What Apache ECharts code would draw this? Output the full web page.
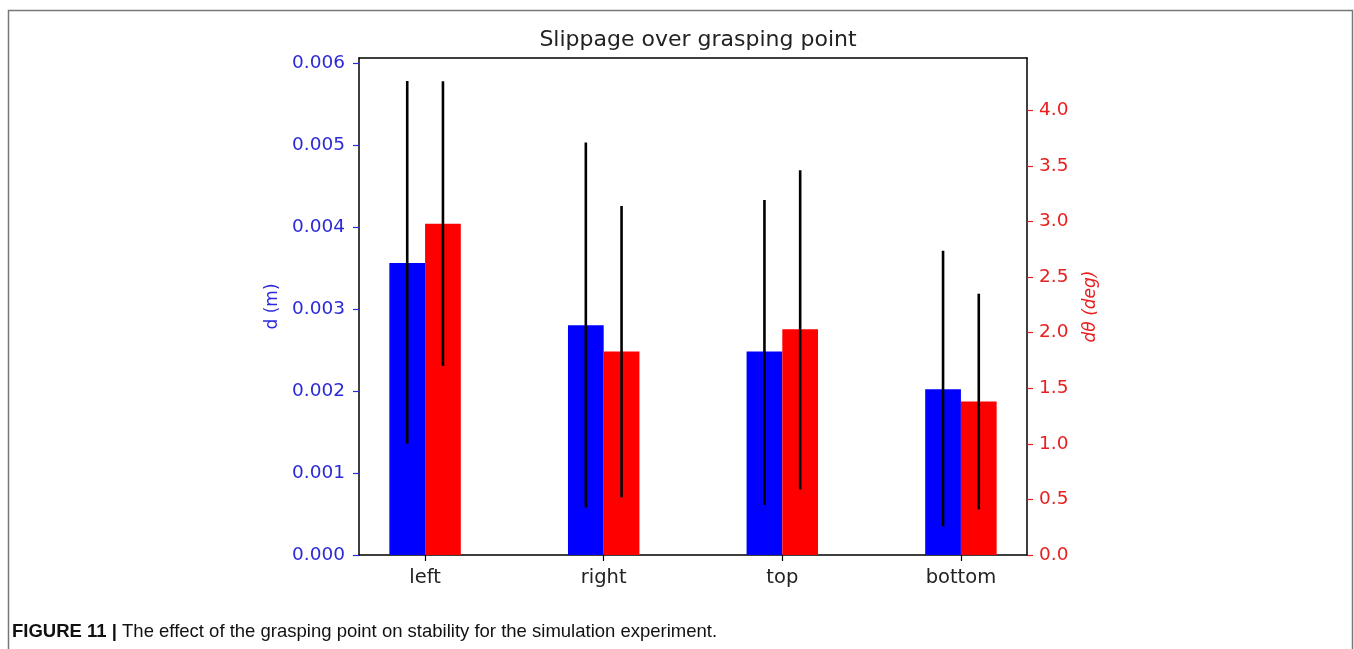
<!DOCTYPE html>
<html>
<head>
<meta charset="utf-8">
<script src="https://cdn.jsdelivr.net/npm/echarts@6/dist/echarts.min.js"></script>
<style>
  html, body { margin: 0; padding: 0; background: #fff; }
  #chart { width: 1354px; height: 649px; }
</style>
</head>
<body>
<div id="chart"></div>
<script>
// grasping points on the x axis
var categories = ['left', 'right', 'top', 'bottom'];
var positions = [0, 1, 2, 3];

// mean slippage distance d (m), left axis
var dMean = [0.00356, 0.00280, 0.00248, 0.00202];
var dLow = [0.00136, 0.00058, 0.00061, 0.00035];
var dHigh = [0.00578, 0.00503, 0.00433, 0.00371];

// mean angle slippage dθ (deg), right axis
var thMean = [2.98, 1.83, 2.03, 1.38];
var thLow = [1.70, 0.52, 0.59, 0.41];
var thHigh = [4.26, 3.14, 3.46, 2.35];

var leftTicks = [0, 0.001, 0.002, 0.003, 0.004, 0.005, 0.006];
var rightTicks = [0, 0.5, 1.0, 1.5, 2.0, 2.5, 3.0, 3.5, 4.0];

var chart = echarts.init(document.getElementById('chart'));
var barW = 0.2;
var FONT = 'DejaVu Sans';

function barItem(offset) {
    return function (params, api) {
        var x = api.value(0), v = api.value(1);
        var p0 = api.coord([x + offset - barW / 2, v]);
        var p1 = api.coord([x + offset + barW / 2, 0]);
        return {
            type: 'rect',
            shape: {x: p0[0], y: p0[1], width: p1[0] - p0[0], height: p1[1] - p0[1]},
            style: {fill: api.visual('color')}
        };
    };
}

function errItem(offset) {
    return function (params, api) {
        var x = api.value(0);
        var lo = api.coord([x + offset, api.value(1)]);
        var hi = api.coord([x + offset, api.value(2)]);
        return {
            type: 'line',
            shape: {x1: lo[0], y1: lo[1], x2: hi[0], y2: hi[1]},
            style: {stroke: '#000', lineWidth: 2.6}
        };
    };
}

function pairs(vals) {
    return positions.map(function (p, i) { return [p, vals[i]]; });
}
function triples(lo, hi) {
    return positions.map(function (p, i) { return [p, lo[i], hi[i]]; });
}

var option = {
    animation: false,
    backgroundColor: '#fff',
    textStyle: {fontFamily: FONT},
    title: {
        text: 'Slippage over grasping point',
        left: 693,
        textAlign: 'center',
        top: 24,
        textStyle: {fontFamily: FONT, fontSize: 22, fontWeight: 'normal', color: '#222'}
    },
    grid: {left: 359, top: 58, right: 327, bottom: 94, containLabel: false},
    xAxis: [{
        type: 'value',
        min: -0.37,
        max: 3.37,
        axisLine: {onZero: false, lineStyle: {color: '#000', width: 1.5}},
        axisTick: {customValues: positions, length: 6, lineStyle: {color: '#000', width: 1.2}},
        axisLabel: {
            customValues: positions,
            formatter: function (v) { return categories[Math.round(v)]; },
            fontFamily: FONT, fontSize: 19.5, color: '#222', margin: 13
        },
        splitLine: {show: false}
    }, {
        type: 'value',
        position: 'top',
        min: -0.37,
        max: 3.37,
        axisLine: {show: true, onZero: false, lineStyle: {color: '#000', width: 1.5}},
        axisTick: {show: false},
        axisLabel: {show: false},
        splitLine: {show: false}
    }],
    yAxis: [{
        type: 'value',
        min: 0,
        max: 0.00606,
        name: 'd (m)',
        nameLocation: 'middle',
        nameGap: 78,
        nameTextStyle: {fontFamily: FONT, fontSize: 17, color: '#2a2ae0'},
        axisLine: {show: true, onZero: false, lineStyle: {color: '#000', width: 1.5}},
        axisTick: {show: true, customValues: leftTicks, length: 6, lineStyle: {color: '#2a2ad8', width: 1.2}},
        axisLabel: {
            customValues: leftTicks,
            formatter: function (v) { return v.toFixed(3); },
            fontFamily: FONT, fontSize: 18.5, color: '#2a2ad8', margin: 14
        },
        splitLine: {show: false}
    }, {
        type: 'value',
        min: 0,
        max: 4.47,
        position: 'right',
        name: 'dθ (deg)',
        nameLocation: 'middle',
        nameGap: 55,
        nameRotate: 90,
        nameTextStyle: {fontFamily: FONT, fontSize: 17, fontStyle: 'italic', color: '#e82020'},
        axisLine: {show: true, onZero: false, lineStyle: {color: '#000', width: 1.5}},
        axisTick: {show: true, customValues: rightTicks, length: 6, lineStyle: {color: '#e82020', width: 1.2}},
        axisLabel: {
            customValues: rightTicks,
            formatter: function (v) { return v.toFixed(1); },
            fontFamily: FONT, fontSize: 18.5, color: '#e82020', margin: 12
        },
        splitLine: {show: false}
    }],
    graphic: [{
        type: 'rect',
        z: -10,
        shape: {x: 8.5, y: 10.5, width: 1344, height: 700},
        style: {fill: 'none', stroke: '#777', lineWidth: 1.5}
    }, {
        type: 'text',
        left: 12,
        top: 622,
        style: {
            text: '{b|FIGURE 11 |} The effect of the grasping point on stability for the simulation experiment.',
            font: '18.5px "Liberation Sans", sans-serif',
            fill: '#111',
            rich: {
                b: {fontFamily: '"Liberation Sans", sans-serif', fontSize: 18.5, fontWeight: 'bold', fill: '#111'}
            }
        }
    }],
    series: [{
        name: 'd',
        type: 'custom',
        xAxisIndex: 0,
        yAxisIndex: 0,
        itemStyle: {color: '#0000ff'},
        renderItem: barItem(-0.1),
        data: pairs(dMean),
        z: 1
    }, {
        name: 'dtheta',
        type: 'custom',
        xAxisIndex: 0,
        yAxisIndex: 1,
        itemStyle: {color: '#ff0000'},
        renderItem: barItem(0.1),
        data: pairs(thMean),
        z: 1
    }, {
        name: 'd err',
        type: 'custom',
        xAxisIndex: 0,
        yAxisIndex: 0,
        renderItem: errItem(-0.1),
        data: triples(dLow, dHigh),
        z: 3
    }, {
        name: 'dtheta err',
        type: 'custom',
        xAxisIndex: 0,
        yAxisIndex: 1,
        renderItem: errItem(0.1),
        data: triples(thLow, thHigh),
        z: 3
    }]
};

chart.setOption(option);
</script>
</body>
</html>
